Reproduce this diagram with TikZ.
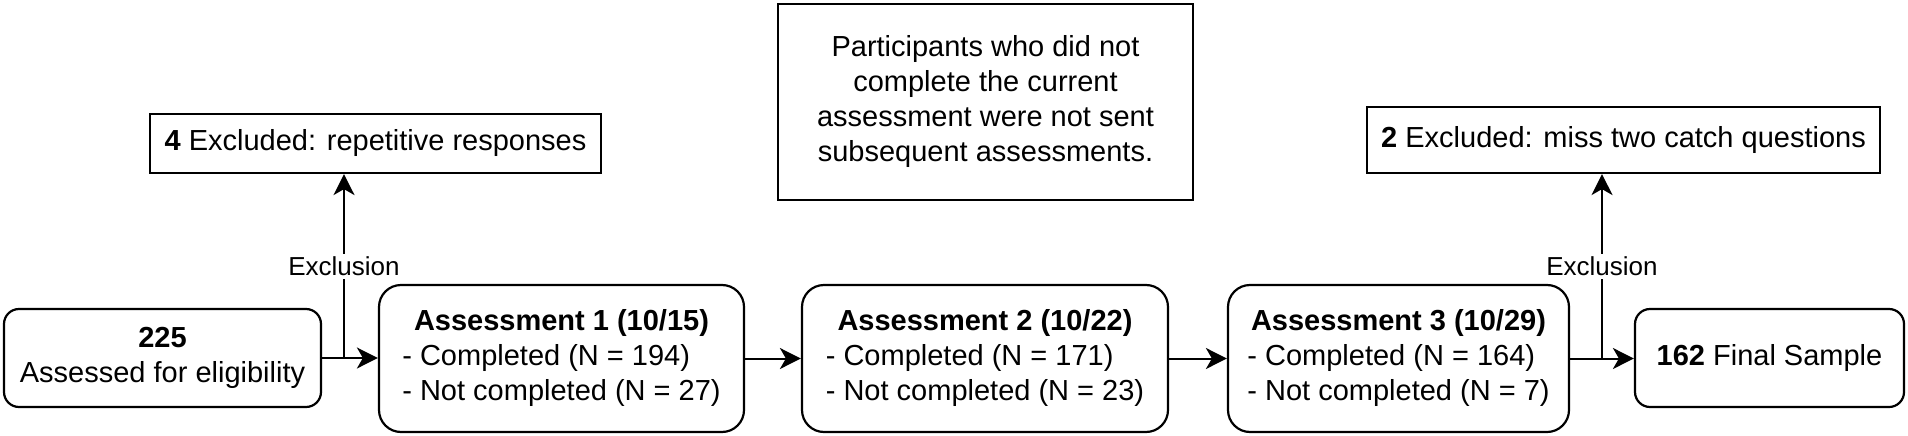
\documentclass[tikz,border=0pt]{standalone}
\usepackage{fontspec}
\setmainfont{Liberation Sans}
\usetikzlibrary{arrows.meta}
\newcommand\mainfs{\fontsize{29}{35}\selectfont}
\newcommand\labfs{\fontsize{26}{31}\selectfont}
\begin{document}
\begin{tikzpicture}[x=1pt,y=-1pt,
  box/.style={draw=black, line width=2.2pt, inner sep=0pt, align=center, font=\mainfs},
  rbox/.style={box, rounded corners=15pt},
  abox/.style={box, rounded corners=22pt, minimum height=147pt},
  conn/.style={line width=2pt, -{Stealth[length=21pt,width=21pt,inset=6pt]}},
  lab/.style={fill=white, inner sep=3pt, font=\labfs}]
\useasboundingbox (0,0) rectangle (1908,436);

\node[rbox, minimum width=317pt, minimum height=98pt] (a0) at (162.5,358)
  {\textbf{225}\\Assessed for eligibility};
\node[abox, minimum width=365pt] (a1) at (561.5,358.5)
  {\begin{tabular}{@{}l@{}}\multicolumn{1}{@{}c@{}}{\textbf{Assessment 1 (10/15)}}\\- Completed (N = 194)\\- Not completed (N = 27)\end{tabular}};
\node[abox, minimum width=366pt] (a2) at (985,358.5)
  {\begin{tabular}{@{}l@{}}\multicolumn{1}{@{}c@{}}{\textbf{Assessment 2 (10/22)}}\\- Completed (N = 171)\\- Not completed (N = 23)\end{tabular}};
\node[abox, minimum width=341pt] (a3) at (1398.5,358.5)
  {\begin{tabular}{@{}l@{}}\multicolumn{1}{@{}c@{}}{\textbf{Assessment 3 (10/29)}}\\- Completed (N = 164)\\- Not completed (N = 7)\end{tabular}};
\node[rbox, minimum width=269pt, minimum height=98pt] (fin) at (1769.5,358)
  {\textbf{162} Final Sample};

\node[box, minimum width=451pt, minimum height=59pt] (exc1) at (375.5,143.5)
  {\textbf{4} Excluded: repetitive responses};
\node[box, minimum width=513pt, minimum height=66pt] (exc2) at (1623.5,140)
  {\textbf{2} Excluded: miss two catch questions};
\node[box, minimum width=415pt, minimum height=196pt] (note) at (985.5,102)
  {Participants who did not\\complete the current\\assessment were not sent\\subsequent assessments.};

\draw[conn] (a0.east) -- (a0.east -| a1.west);
\draw[conn] (a1.east) -- (a1.east -| a2.west);
\draw[conn] (a2.east) -- (a2.east -| a3.west);
\draw[conn] (a3.east) -- (a3.east -| fin.west);

\coordinate (j1) at (344,358);
\coordinate (j2) at (1602,358);
\draw[conn] (j1) -- (j1 |- exc1.south) node[lab, midway] (l1) {Exclusion};
\draw[conn] (j2) -- (j2 |- exc2.south) node[lab, midway] (l2) {Exclusion};
\end{tikzpicture}
\end{document}
